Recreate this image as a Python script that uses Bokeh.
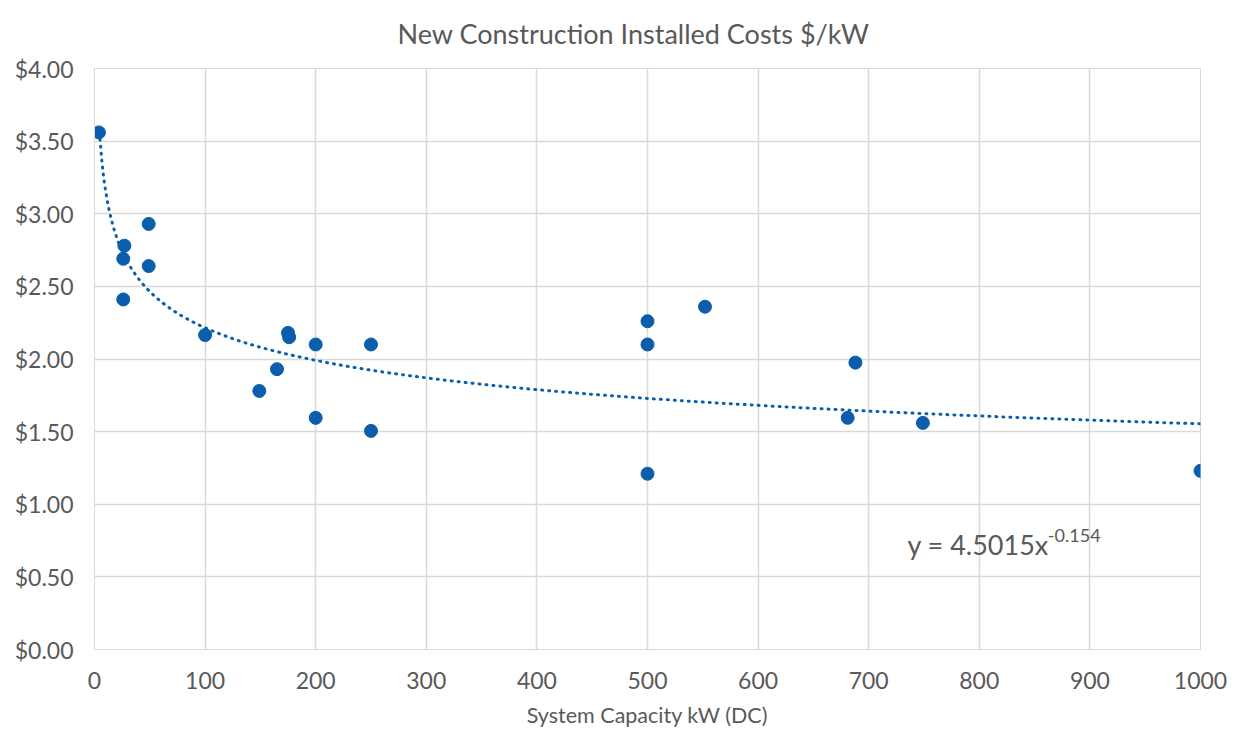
import numpy as np
from bokeh.plotting import figure
from bokeh.models import Label, NumeralTickFormatter, FixedTicker, Range1d
from bokeh.embed import file_html
from bokeh.resources import INLINE

# Data
capacity_kw = [4, 27, 26, 26, 49, 49, 100, 149, 165, 175, 176, 200, 200, 250, 250,
               500, 500, 500, 552, 688, 681, 749, 1000]
cost_per_kw = [3.56, 2.78, 2.69, 2.41, 2.93, 2.64, 2.165, 1.78, 1.93, 2.18, 2.15, 2.10,
               1.595, 2.10, 1.505, 2.26, 2.10, 1.21, 2.36, 1.975, 1.595, 1.56, 1.23]

# Power trendline coefficients shown on the chart
trend_a = 4.5015
trend_b = -0.154
trend_x_start = 5

x_ticks = [0, 100, 200, 300, 400, 500, 600, 700, 800, 900, 1000]
y_ticks = [0, 0.5, 1.0, 1.5, 2.0, 2.5, 3.0, 3.5, 4.0]

title_text = "New Construction Installed Costs $/kW"
x_title = "System Capacity kW (DC)"

FONT = "Lato"
GREY = "#595959"
GRID = "#d9d9d9"
BLUE = "#0A5EAB"

p = figure(width=1239, height=730, output_backend="svg", toolbar_location=None,
           x_range=Range1d(0, 1000), y_range=Range1d(0, 4),
           min_border_left=94, min_border_right=39, min_border_top=68, min_border_bottom=80)
p.outline_line_color = GRID
p.background_fill_color = "white"
p.border_fill_color = "white"

p.title.text = title_text
p.title.align = "left"
p.title.offset = 303
p.title.vertical_align = "top"
p.title.text_font = FONT
p.title.text_font_size = "27px"
p.title.text_font_style = "normal"
p.title.text_color = GREY
p.title.standoff = 33

p.xaxis.ticker = FixedTicker(ticks=x_ticks)
p.yaxis.ticker = FixedTicker(ticks=y_ticks)
p.yaxis.formatter = NumeralTickFormatter(format="$0.00")
for ax in (p.xaxis, p.yaxis):
    ax.axis_line_color = GRID
    ax.major_tick_line_color = None
    ax.minor_tick_line_color = None
    ax.major_label_text_font = FONT
    ax.major_label_text_font_size = "23px"
    ax.major_label_text_color = GREY
p.xaxis.major_label_standoff = 16
p.yaxis.major_label_standoff = 15
p.xaxis.axis_label = x_title
p.xaxis.axis_label_text_font = FONT
p.xaxis.axis_label_text_font_size = "21.5px"
p.xaxis.axis_label_text_font_style = "normal"
p.xaxis.axis_label_text_color = GREY
p.xaxis.axis_label_standoff = 10

p.xgrid.grid_line_color = GRID
p.ygrid.grid_line_color = GRID
p.xgrid.grid_line_width = 1.5
p.ygrid.grid_line_width = 1.5

# trendline
tx = np.linspace(trend_x_start, max(capacity_kw), 600)
ty = trend_a * tx ** trend_b
p.line(tx, ty, line_color=BLUE, line_width=3, line_dash="1 6", line_cap="round")

p.scatter(capacity_kw, cost_per_kw, size=13, fill_color=BLUE, line_color=BLUE)

p.add_layout(Label(x=735, y=0.722, text="y = 4.5015x", text_align="left",
                   text_baseline="alphabetic", text_font=FONT, text_font_size="27px",
                   text_color=GREY))
p.add_layout(Label(x=862, y=0.784, text="-0.154", text_align="left",
                   text_baseline="alphabetic", text_font=FONT, text_font_size="18px",
                   text_color=GREY))

open("out.html", "w").write(file_html(p, INLINE))
